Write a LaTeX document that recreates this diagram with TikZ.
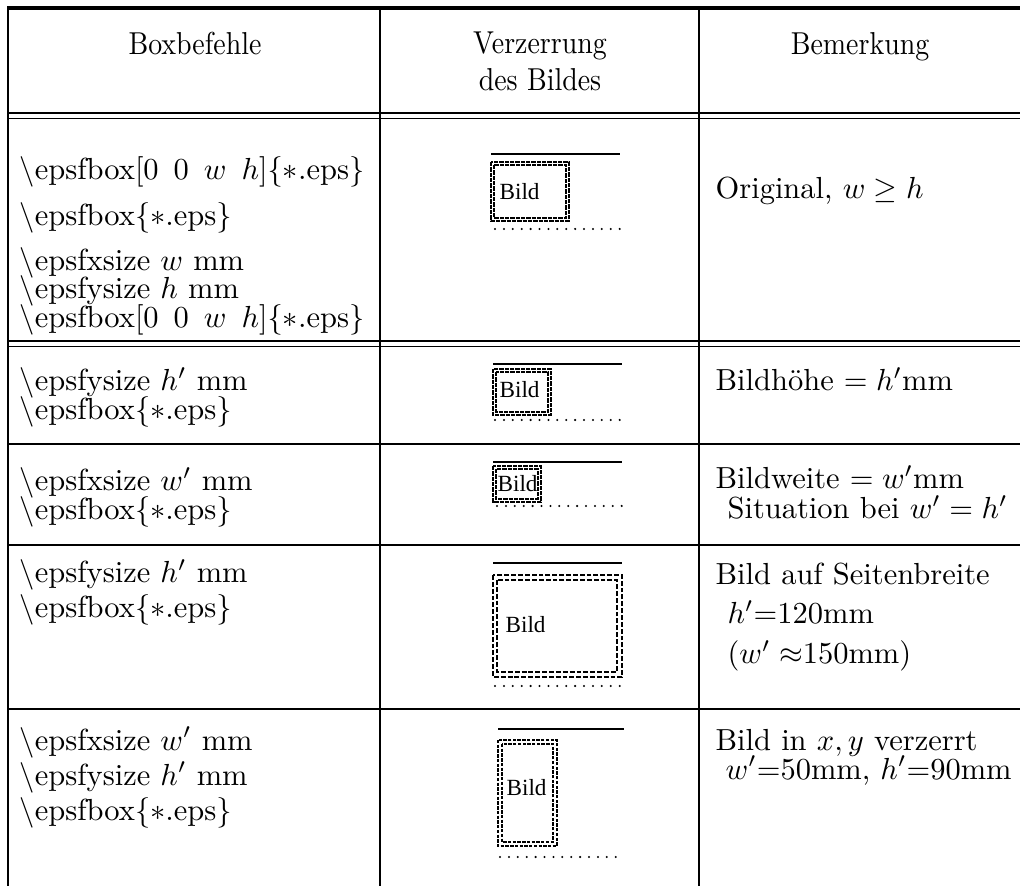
\documentclass[tikz,border=0pt]{standalone}
\usepackage{fontspec}
\newfontfamily\bildfont{Liberation Serif}
\tikzset{
  body/.style={anchor=base west, inner sep=0pt, font=\fontsize{10}{12}\selectfont},
  head/.style={anchor=base, inner sep=0pt, font=\fontsize{10.4}{12}\selectfont},
  bild/.style={anchor=base west, inner sep=0pt, font=\bildfont\fontsize{7.6}{9}\selectfont},
  ruletop/.style={line width=1pt},
  rulesep/.style={line width=0.9pt},
  ruledbl/.style={line width=0.55pt},
  rulevert/.style={line width=0.8pt},
  solidbar/.style={line width=0.85pt},
  dotline/.style={line width=0.75pt, line cap=round, dash pattern=on 0pt off 2.92pt},
  framesmall/.style={line width=0.8pt, dash pattern=on 1.4pt off 0.35pt},
  framebig/.style={line width=0.6pt, dash pattern=on 1.6pt off 0.65pt},
  framemid/.style={line width=0.55pt, dash pattern=on 1.1pt off 0.45pt},
}
\newcommand{\bs}{$\backslash$}
\newcommand{\hd}[1]{\scalebox{0.88}[1]{#1}}
\newcommand{\xsp}{\hspace{1.6pt}}
\begin{document}
\begin{tikzpicture}[x=0.328pt, y=-0.328pt]
\useasboundingbox (0,0) rectangle (1020,886);
% rules
\draw[ruletop] (7,8) -- (1020,8);
\draw[ruledbl] (8,113) -- (1020,113);
\draw[ruledbl] (8,118.5) -- (1020,118.5);
\draw[ruledbl] (8,341) -- (1020,341);
\draw[ruledbl] (8,346.5) -- (1020,346.5);
\draw[rulesep] (8,444) -- (1020,444);
\draw[rulesep] (8,545) -- (1020,545);
\draw[rulesep] (8,709) -- (1020,709);
\draw[rulevert] (8,8) -- (8,886);
\draw[rulevert] (380,8) -- (380,886);
\draw[rulevert] (699,8) -- (699,886);
% header
\node[head] (h1) at (195,55) {\hd{Boxbefehle}};
\node[head] (h2a) at (540,54) {\hd{Verzerrung}};
\node[head] (h2b) at (540,91) {\hd{des Bildes}};
\node[head] (h3) at (860,55) {\hd{Bemerkung}};
% row 1
\node[body] (r1a) at (19,180) {\bs epsfbox[0\xsp\ 0\xsp\ $w$\xsp\ $h$]\{$*$.eps\}};
\node[body] (r1b) at (19,226) {\bs epsfbox\{$*$.eps\}};
\node[body] (r1c) at (19,271) {\bs epsfxsize $w$ mm};
\node[body] (r1d) at (19,299) {\bs epsfysize $h$ mm};
\node[body] (r1e) at (19,328) {\bs epsfbox[0\xsp\ 0\xsp\ $w$\xsp\ $h$]\{$*$.eps\}};
\node[body] (r1r) at (715,199) {Original, $w \geq h$};
\draw[solidbar] (491,154) -- (620,154);
\draw[framesmall] (491,162) rectangle (569,221);
\draw[framesmall] (494,165) rectangle (566,218);
\node[bild] (b1) at (499,200) {Bild};
\draw[dotline] (495,229) -- (621,229);
% row 2
\node[body] (r2a) at (19,391) {\bs epsfysize $h'$ mm};
\node[body] (r2b) at (19,420) {\bs epsfbox\{$*$.eps\}};
\node[body] (r2r) at (715,391) {Bildh\"ohe $= h'$mm};
\draw[solidbar] (493,364) -- (622,364);
\draw[framesmall] (493,369) rectangle (551,415);
\draw[framesmall] (496,372) rectangle (548,412);
\node[bild] (b2) at (499,398) {Bild};
\draw[dotline] (495,420) -- (621,420);
% row 3
\node[body] (r3a) at (19,491) {\bs epsfxsize $w'$ mm};
\node[body] (r3b) at (19,520) {\bs epsfbox\{$*$.eps\}};
\node[body] (r3r) at (715,489) {Bildweite $= w'$mm};
\node[body] (r3s) at (727,519) {Situation bei $w' = h'$};
\draw[solidbar] (493,462) -- (622,462);
\draw[framesmall] (493,466) rectangle (541,502);
\draw[framesmall] (496,469) rectangle (538,499);
\node[bild] (b3) at (497,492) {Bild};
\draw[dotline] (497,506) -- (622,506);
% row 4
\node[body] (r4a) at (19,583) {\bs epsfysize $h'$ mm};
\node[body] (r4b) at (19,618) {\bs epsfbox\{$*$.eps\}};
\node[body] (r4r) at (715,585) {Bild auf Seitenbreite};
\node[body] (r4s) at (727,624) {$h'$=120mm};
\node[body] (r4t) at (727,664) {($w' \approx$150mm)};
\draw[solidbar] (493,563) -- (622,563);
\draw[framebig] (493,575) rectangle (622,677);
\draw[framebig] (497,580) rectangle (617,672);
\node[bild] (b4) at (505,633) {Bild};
\draw[dotline] (495,686) -- (622,686);
% row 5
\node[body] (r5a) at (19,750) {\bs epsfxsize $w'$ mm};
\node[body] (r5b) at (19,785) {\bs epsfysize $h'$ mm};
\node[body] (r5c) at (19,820) {\bs epsfbox\{$*$.eps\}};
\node[body] (r5r) at (715,750) {Bild in $x,y$ verzerrt};
\node[body] (r5s) at (725,779) {$w'$=50mm, $h'$=90mm};
\draw[solidbar] (498,729) -- (624,729);
\draw[framemid] (498,740) rectangle (557,846);
\draw[framemid] (502,744) rectangle (553,842);
\node[bild] (b5) at (506,795) {Bild};
\draw[dotline] (500,857) -- (624,857);
\end{tikzpicture}
\end{document}
